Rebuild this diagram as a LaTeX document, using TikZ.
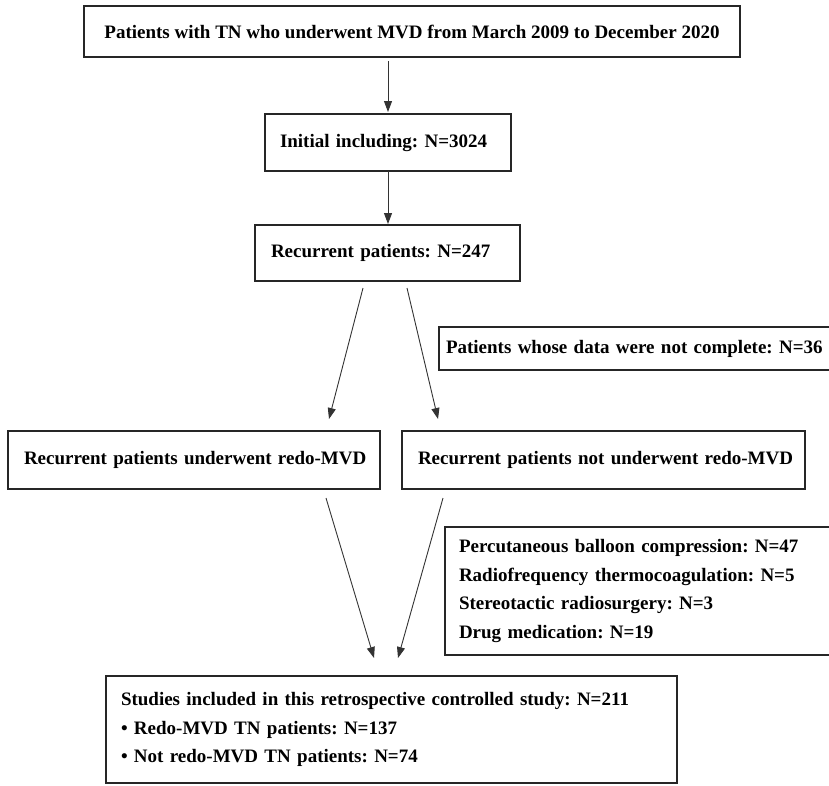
\documentclass[tikz,border=0pt]{standalone}
\usepackage{fontspec}
\setmainfont{Liberation Serif}
\usetikzlibrary{arrows.meta}
\definecolor{boxline}{HTML}{262626}
\definecolor{arrline}{HTML}{333333}
\tikzset{
  flowbox/.style={draw=boxline, line width=1.7pt, inner ysep=0pt, outer sep=0pt,
    font=\bfseries\fontsize{19}{28.5}\selectfont\frenchspacing, text=black},
  arr/.style={draw=arrline, line width=0.9pt, -{Triangle[length=11pt,width=8pt]}},
}
\begin{document}
\begin{tikzpicture}[x=1pt,y=-1pt]
\clip (0,0) rectangle (829,785);
\fill[white] (0,0) rectangle (829,785);

\node[flowbox, minimum width=656pt, minimum height=51pt, align=center] (top) at (412,31.5)
  {Patients with TN who underwent MVD from March 2009 to December 2020};

\node[flowbox, inner xsep=15pt, text width=216pt, minimum height=57pt, align=left] (b2) at (388,142.5)
  {\mbox{Initial including: N=3024}};

\node[flowbox, inner xsep=16pt, text width=233pt, minimum height=56pt, align=left] (b3) at (387.5,253)
  {\mbox{Recurrent patients: N=247}};

\node[flowbox, inner xsep=7pt, text width=392pt, minimum height=43pt, align=left] (ex1) at (642,348.5)
  {\mbox{Patients whose data were not complete: N=36}};

\node[flowbox, inner xsep=16pt, text width=340pt, minimum height=58pt, align=left] (b4) at (194,460)
  {\mbox{Recurrent patients underwent redo-MVD}};

\node[flowbox, inner xsep=16pt, text width=371pt, minimum height=58pt, align=left] (b5) at (603.5,460)
  {\mbox{Recurrent patients not underwent redo-MVD}};

\node[flowbox, inner xsep=14pt, text width=372pt, minimum height=128pt, align=left] (ex2) at (645,591)
  {\mbox{Percutaneous balloon compression: N=47}\\
   \mbox{Radiofrequency thermocoagulation: N=5}\\
   \mbox{Stereotactic radiosurgery: N=3}\\
   \mbox{Drug medication: N=19}};

\node[flowbox, inner xsep=15pt, text width=541pt, minimum height=107pt, align=left] (fin) at (391.5,729.5)
  {\mbox{Studies included in this retrospective controlled study: N=211}\\
   \mbox{\textbullet{} Redo-MVD TN patients: N=137}\\
   \mbox{\textbullet{} Not redo-MVD TN patients: N=74}};

% straight arrows
\draw[arr, shorten <=4pt, shorten >=2pt] (top.south -| b2.north) -- (b2.north);
\draw[arr, shorten >=1pt] (b2.south) -- (b2.south |- b3.north);

% split arrows from recurrent patients
\coordinate (s1) at (363,288);
\coordinate (s2) at (407,288);
\coordinate (e1) at (329,419);
\coordinate (e2) at (438,419);
\draw[arr] (s1) -- (e1);
\draw[arr] (s2) -- (e2);

% merge arrows to final box
\coordinate (m1) at (326,498);
\coordinate (m2) at (443,498);
\coordinate (f1) at (374,658);
\coordinate (f2) at (398,658);
\draw[arr] (m1) -- (f1);
\draw[arr] (m2) -- (f2);
\end{tikzpicture}
\end{document}
